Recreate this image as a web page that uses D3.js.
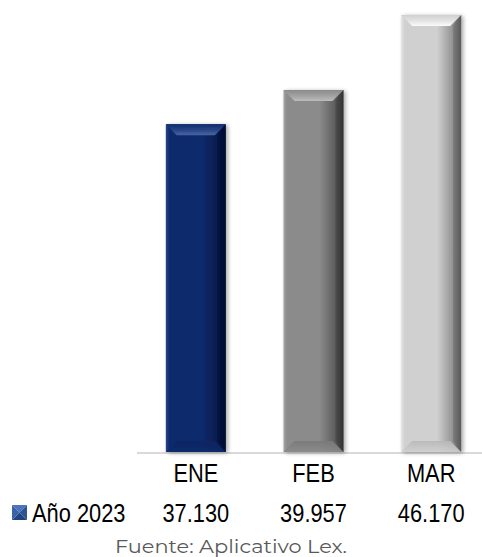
<!DOCTYPE html>
<html>
<head>
<meta charset="utf-8">
<script src="https://cdn.jsdelivr.net/npm/d3@7"></script>
<style>
  html, body { margin: 0; padding: 0; background: #ffffff; }
  svg { display: block; }
  .lbl { font-family: "Liberation Sans", Arial, sans-serif; font-size: 26px; fill: #000; }
  .src { font-family: "Montserrat", Inter, "Open Sans", sans-serif; font-size: 18px; font-weight: 400; fill: #595959; }
</style>
</head>
<body>
<div id="chart"></div>
<script>
// Monthly totals, first quarter 2023
const categories = ["ENE", "FEB", "MAR"];
const values = [37130, 39957, 46170];
const seriesName = "Año 2023";
const sourceNote = "Fuente: Aplicativo Lex.";
const yDomain = [10000, 47000];

// Bevel palettes per bar: face, highlight, shade
const palettes = [
  { face: "#0d2b6c", light: "#4a65a3", edge: "#2a4688", dark: "#000b30" },
  { face: "#8b8b8b", light: "#bdbdbd", edge: "#a3a3a3", dark: "#333333" },
  { face: "#d0d0d0", light: "#fbfbfb", edge: "#e4e4e4", dark: "#5a5a5a" }
];

const W = 482, H = 557;
const svg = d3.select("#chart").append("svg").attr("width", W).attr("height", H);
const defs = svg.append("defs");

const x = d3.scaleBand().domain(categories).range([137, 490])
  .paddingInner(0.49).paddingOuter(0.245);
const y = d3.scaleLinear().domain(yDomain).range([452, 5]);

const locale = d3.formatLocale({ decimal: ",", thousands: ".", grouping: [3], currency: ["", ""] });
const fmt = locale.format(",d");

// condensed label text: regular face squeezed horizontally
const squeeze = 0.84;
function label(sel, px, py) {
  return sel.attr("transform", `translate(${px},${py}) scale(${squeeze},1)`);
}

// soft drop shadow behind bars
const sh = defs.append("filter").attr("id", "shadow")
  .attr("x", "-30%").attr("y", "-10%").attr("width", "160%").attr("height", "120%");
sh.append("feGaussianBlur").attr("in", "SourceAlpha").attr("stdDeviation", 2.2).attr("result", "b");
sh.append("feOffset").attr("in", "b").attr("dx", 2).attr("dy", 1).attr("result", "o");
sh.append("feComponentTransfer").attr("in", "o").attr("result", "s")
  .append("feFuncA").attr("type", "linear").attr("slope", 0.35);
const m = sh.append("feMerge");
m.append("feMergeNode").attr("in", "s");
m.append("feMergeNode").attr("in", "SourceGraphic");

palettes.forEach((p, i) => {
  const gf = defs.append("linearGradient").attr("id", "face" + i).attr("x1", 0).attr("x2", 1).attr("y1", 0).attr("y2", 0);
  [[0, p.edge], [0.06, p.face], [0.6, p.face], [0.85, d3.interpolateRgb(p.face, p.dark)(0.5)], [1, p.dark]]
    .forEach(([o, c]) => gf.append("stop").attr("offset", o).attr("stop-color", c));
  const gt = defs.append("linearGradient").attr("id", "top" + i).attr("x1", 0).attr("x2", 0).attr("y1", 0).attr("y2", 1);
  [[0, p.face], [0.55, p.edge], [1, p.light]]
    .forEach(([o, c]) => gt.append("stop").attr("offset", o).attr("stop-color", c));
  const gb = defs.append("linearGradient").attr("id", "bot" + i).attr("x1", 0).attr("x2", 0).attr("y1", 0).attr("y2", 1);
  [[0, d3.interpolateRgb(p.face, p.dark)(0.2)], [1, p.face]]
    .forEach(([o, c]) => gb.append("stop").attr("offset", o).attr("stop-color", c));
});

// category axis line
svg.append("line")
  .attr("x1", x.range()[0]).attr("x2", x.range()[1])
  .attr("y1", y(yDomain[0]) + 1).attr("y2", y(yDomain[0]) + 1)
  .attr("stroke", "#d9d9d9").attr("stroke-width", 2);

// bevelled bars
const bars = svg.append("g").selectAll("g").data(values).join("g")
  .attr("filter", "url(#shadow)");

bars.each(function (v, i) {
  const g = d3.select(this);
  const x0 = x(categories[i]), x1 = x0 + x.bandwidth();
  const y0 = y(v), y1 = y(yDomain[0]);
  const b = 11;
  g.append("rect").attr("x", x0).attr("y", y0).attr("width", x1 - x0).attr("height", y1 - y0)
    .attr("fill", `url(#face${i})`);
  g.append("path")
    .attr("d", `M${x0},${y0}L${x1},${y0}L${x1 - b},${y0 + b}L${x0 + b},${y0 + b}Z`)
    .attr("fill", `url(#top${i})`);
  g.append("path")
    .attr("d", `M${x0},${y1}L${x1},${y1}L${x1 - b},${y1 - b}L${x0 + b},${y1 - b}Z`)
    .attr("fill", `url(#bot${i})`).attr("opacity", 0.9);
  g.append("path")
    .attr("d", `M${x1},${y0}L${x1},${y1}L${x1 - b + 3},${y1 - b}L${x1 - b + 3},${y0 + b}Z`)
    .attr("fill", palettes[i].dark).attr("opacity", 0.35);
});

// category labels
svg.append("g").selectAll("text").data(categories).join("text")
  .attr("class", "lbl").attr("text-anchor", "middle")
  .each(function (d) { label(d3.select(this), x(d) + x.bandwidth() / 2, 482); })
  .text(d => d);

// data table row
svg.append("g").selectAll("text").data(values).join("text")
  .attr("class", "lbl").attr("text-anchor", "middle")
  .each(function (d, i) { label(d3.select(this), x(categories[i]) + x.bandwidth() / 2, 522); })
  .text(d => fmt(d));

// legend key
const k = svg.append("g").attr("transform", "translate(12,505)");
const s = 15, c = s / 2;
[["#4d74bb", `M0,0L${s},0L${c},${c}Z`],
 ["#2c5497", `M${s},0L${s},${s}L${c},${c}Z`],
 ["#21447e", `M0,${s}L${s},${s}L${c},${c}Z`],
 ["#3a62a8", `M0,0L0,${s}L${c},${c}Z`]]
  .forEach(([col, d]) => k.append("path").attr("d", d).attr("fill", col));
label(svg.append("text").attr("class", "lbl"), 32, 522).text(seriesName);

// source note
svg.append("text").attr("class", "src").attr("x", 115).attr("y", 553)
  .attr("textLength", 232).attr("lengthAdjust", "spacingAndGlyphs")
  .text(sourceNote);
</script>
</body>
</html>
